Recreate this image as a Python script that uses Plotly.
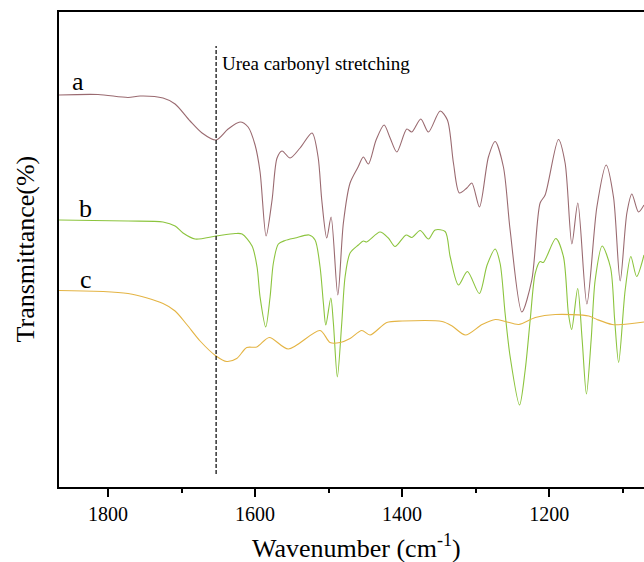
import plotly.graph_objects as go

# Wavenumber (cm-1) and transmittance (arbitrary, offset) values
wn_a = [1866.7, 1813.6, 1772.8, 1756.5, 1725.2, 1708.8, 1688.4, 1672.1, 1653.1, 1636.7,
        1620.4, 1609.5, 1600.0, 1593.2, 1585.0, 1576.9, 1570.1, 1563.3, 1552.4, 1538.8,
        1522.5, 1514.3, 1509.3, 1502.5, 1496.6, 1487.5, 1479.9, 1470.8, 1459.9, 1452.7,
        1445.9, 1435.4, 1424.5, 1416.3, 1407.2, 1393.6, 1386.8, 1374.6, 1364.2, 1348.3,
        1338.4, 1330.2, 1322.1, 1312.0, 1305.2, 1294.8, 1282.6, 1273.5, 1262.2, 1253.1,
        1237.2, 1223.6, 1212.3, 1205.5, 1187.4, 1178.3, 1169.1, 1161.0, 1148.7, 1135.1,
        1122.5, 1112.5, 1103.4, 1094.3, 1087.5, 1078.5, 1071.0]
t_a = [78.4, 78.5, 77.9, 78.2, 77.8, 76.6, 73.2, 70.8, 69.4, 71.6,
       73.0, 72.0, 68.4, 63.0, 50.2, 57.4, 65.8, 67.2, 65.8, 67.8,
       70.8, 66.0, 57.4, 49.8, 54.0, 38.4, 52.8, 60.8, 64.0, 66.0,
       64.6, 69.4, 72.4, 69.8, 67.0, 71.6, 71.0, 73.6, 71.0, 75.2,
       73.4, 64.8, 58.8, 59.8, 60.8, 56.0, 66.0, 69.1, 64.0, 51.4,
       35.0, 41.4, 56.8, 58.4, 69.5, 64.8, 48.6, 56.8, 36.6, 56.0,
       64.4, 58.0, 41.2, 54.8, 58.6, 55.0, 56.4]

wn_b = [1866.7, 1772.8, 1725.2, 1708.8, 1698.0, 1681.6, 1653.1, 1627.2, 1617.7, 1604.1,
        1597.3, 1593.2, 1585.5, 1579.6, 1575.1, 1568.3, 1559.2, 1545.6, 1526.5, 1518.4,
        1511.6, 1507.1, 1503.8, 1497.0, 1493.5, 1488.1, 1482.1, 1477.6, 1470.8, 1459.5,
        1452.7, 1448.2, 1430.1, 1418.7, 1409.6, 1394.6, 1386.8, 1375.5, 1364.2, 1355.1,
        1341.5, 1334.7, 1323.4, 1311.2, 1295.0, 1284.4, 1273.5, 1266.7, 1259.9, 1253.1,
        1240.3, 1232.6, 1225.8, 1219.0, 1212.3, 1207.9, 1191.0, 1180.6, 1173.8, 1169.4,
        1161.2, 1155.1, 1149.3, 1142.9, 1137.4, 1127.9, 1116.4, 1110.9, 1105.5, 1096.6,
        1088.9, 1081.0, 1071.0]
t_b = [53.4, 53.2, 53.0, 52.2, 50.8, 49.6, 50.2, 50.7, 50.6, 48.2,
       44.0, 38.0, 32.0, 38.0, 44.8, 48.6, 49.3, 49.8, 50.4, 49.4,
       44.0, 36.8, 32.4, 37.8, 32.8, 22.0, 32.8, 42.0, 46.8, 48.4,
       49.2, 49.0, 51.0, 49.8, 48.1, 50.4, 49.9, 51.3, 49.6, 51.4,
       51.1, 46.1, 40.4, 43.1, 38.7, 44.4, 47.6, 44.7, 34.7, 26.1,
       16.4, 23.4, 33.4, 42.7, 45.1, 44.9, 49.7, 46.1, 34.7, 31.5,
       39.7, 29.4, 18.6, 29.4, 41.4, 48.2, 43.8, 33.4, 24.9, 39.4,
       46.1, 42.1, 46.4]

wn_c = [1866.7, 1772.8, 1725.2, 1708.8, 1692.9, 1674.8, 1653.1, 1638.5, 1625.0, 1611.3,
        1597.7, 1580.7, 1554.8, 1511.6, 1498.0, 1484.4, 1470.8, 1454.9, 1443.6, 1420.9,
        1400.0, 1345.6, 1332.0, 1313.9, 1291.2, 1273.1, 1259.5, 1241.3, 1218.8, 1191.6,
        1146.1, 1134.9, 1114.3, 1100.7, 1071.0]
t_c = [39.3, 38.7, 36.7, 35.2, 32.5, 29.2, 26.2, 25.1, 25.7, 27.9,
       28.0, 29.9, 27.6, 31.3, 28.9, 28.9, 29.7, 31.3, 30.4, 32.9,
       33.2, 33.1, 32.2, 30.4, 32.5, 33.5, 33.1, 32.5, 33.9, 34.5,
       34.2, 33.5, 32.5, 32.5, 33.0]

curve_labels = ["a", "b", "c"]
label_wn = [1840.8, 1830.6, 1829.9]
label_t = [81.2, 55.8, 41.6]
colors = ["#9a6a70", "#8cc43e", "#e4b444"]

marker_wn = 1653.0
marker_t = [2.6, 88.2]
marker_text = "Urea carbonyl stretching"
marker_text_wn = 1647.6
marker_text_t = 84.8

x_ticks = [1800, 1600, 1400, 1200]
x_range = [1866.7, 1071.0]
y_range = [0, 95]

SERIF = "Liberation Serif, Times New Roman, serif"

fig = go.Figure()
for wn, t, col in zip([wn_a, wn_b, wn_c], [t_a, t_b, t_c], colors):
    fig.add_trace(go.Scatter(x=wn, y=t, mode="lines",
                             line=dict(color=col, width=1.1, shape="spline", smoothing=0.8),
                             showlegend=False, hoverinfo="skip"))

fig.add_shape(type="line", xref="x", yref="y", x0=marker_wn, x1=marker_wn,
              y0=marker_t[0], y1=marker_t[1],
              line=dict(color="black", width=1.2, dash="4px,2px"))

fig.add_annotation(x=marker_text_wn, y=marker_text_t, xref="x", yref="y",
                   text=marker_text, showarrow=False, xanchor="left", yanchor="middle",
                   font=dict(family=SERIF, size=19, color="black"))

for lab, lx, ly in zip(curve_labels, label_wn, label_t):
    fig.add_annotation(x=lx, y=ly, xref="x", yref="y", text=lab, showarrow=False,
                       xanchor="center", yanchor="middle",
                       font=dict(family=SERIF, size=26, color="black"))

# axis titles
fig.add_annotation(x=(25 - 59) / 585, y=0.5, xref="paper", yref="paper",
                   text="Transmittance(%)", textangle=-90, showarrow=False,
                   xanchor="center", yanchor="middle",
                   font=dict(family=SERIF, size=26, color="black"))
fig.add_annotation(x=(356 - 59) / 585, y=(487 - 546) / 475, xref="paper", yref="paper",
                   text="Wavenumber (cm<sup>-1</sup>)", showarrow=False,
                   xanchor="center", yanchor="middle",
                   font=dict(family=SERIF, size=26, color="black"))

fig.update_layout(
    width=644, height=562,
    margin=dict(l=59, r=0, t=12, b=75),
    paper_bgcolor="white", plot_bgcolor="white",
    xaxis=dict(range=x_range, tickvals=x_ticks, ticks="outside", ticklen=8, tickwidth=2,
               tickcolor="black", showline=True, linecolor="black", linewidth=2,
               mirror=True, showgrid=False, zeroline=False,
               tickfont=dict(family=SERIF, size=20, color="black"),
               minor=dict(dtick=100, tick0=1000, ticks="outside", ticklen=4, tickwidth=2,
                          tickcolor="black", showgrid=False)),
    yaxis=dict(range=y_range, showticklabels=False, ticks="", showline=True,
               linecolor="black", linewidth=2, mirror=False, showgrid=False, zeroline=False),
)

fig.write_html("out.html")
